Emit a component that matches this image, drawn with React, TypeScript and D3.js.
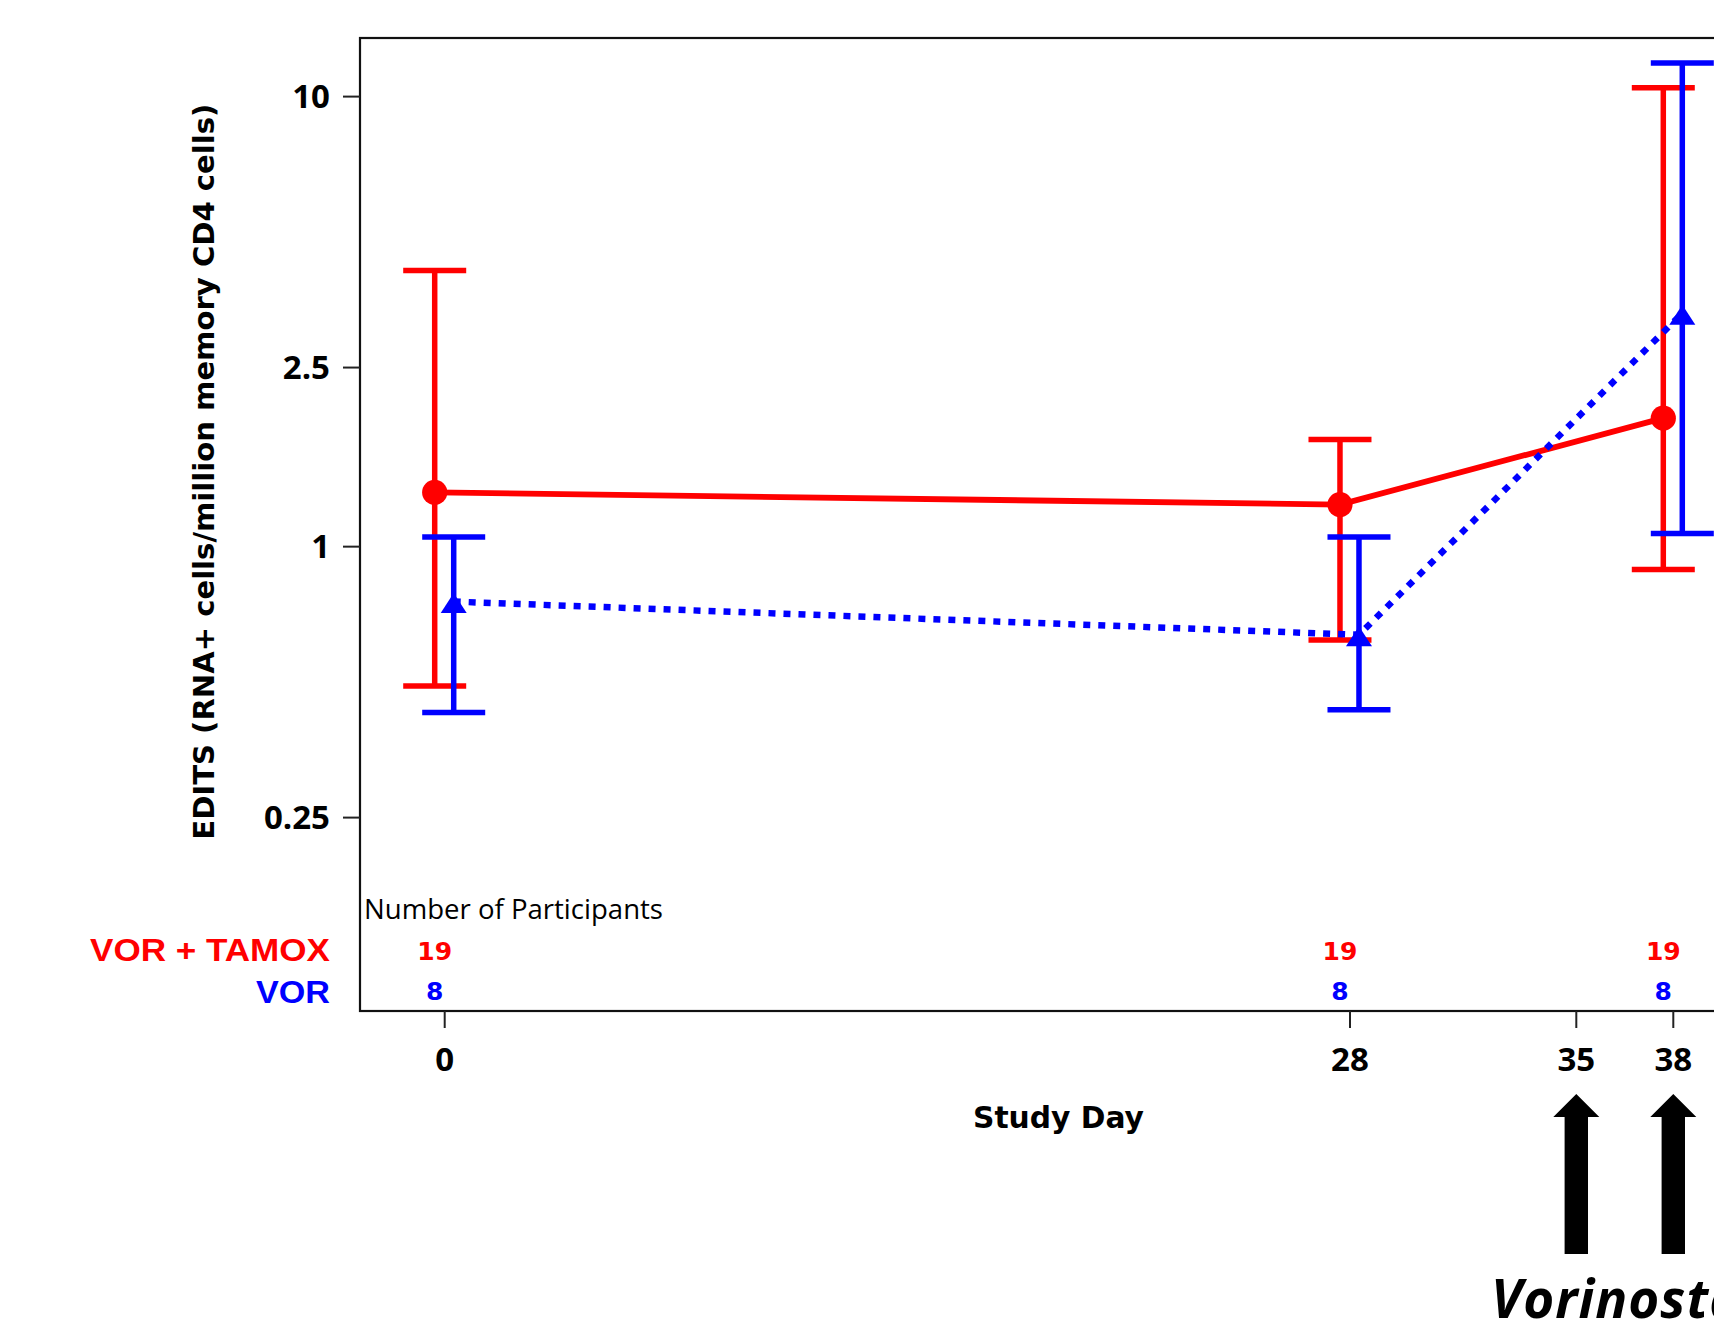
import React from "react";
import * as d3 from "d3";

// ---- data ----
const days = [0, 28, 38];
const xTickDays = [0, 28, 35, 38];
const yTickValues = [0.25, 1, 2.5, 10];
const yTickLabels = ["0.25", "1", "2.5", "10"];

const redName = "VOR + TAMOX";
const redMean = [1.32, 1.24, 1.93];
const redLower = [0.49, 0.62, 0.89];
const redUpper = [4.11, 1.73, 10.46];
const redCounts = [19, 19, 19];

const blueName = "VOR";
const blueMean = [0.755, 0.637, 3.3];
const blueLower = [0.428, 0.434, 1.07];
const blueUpper = [1.05, 1.05, 11.88];
const blueCounts = [8, 8, 8];

const arrowDays = [35, 38];

const RED = "#ff0000";
const BLUE = "#0000ff";
const BOLD = "'DejaVu Sans', Verdana, sans-serif";
const TICKFONT = "'Open Sans', sans-serif";

export default function App() {
  const W = 1714;
  const H = 1323;
  const x = d3.scaleLinear().domain([0, 38]).range([444.7, 1673.3]);
  const y = d3.scaleLog().domain([0.25, 10]).range([817.6, 96.6]);

  const frame = { left: 360, top: 38, right: 1756, bottom: 1011 };
  const redOff = -10;
  const blueOff = 9;
  const capW = 63;

  const redPath = d3
    .line<number>()
    .x((d, i) => x(days[i]) + redOff)
    .y((d) => y(d))(redMean) as string;
  const bluePath = d3
    .line<number>()
    .x((d, i) => x(days[i]) + blueOff)
    .y((d) => y(d))(blueMean) as string;

  const errBars = (lower: number[], upper: number[], off: number, color: string) =>
    days.map((d, i) => {
      const cx = x(d) + off;
      return (
        <g key={i} stroke={color} strokeWidth={5.5}>
          <line x1={cx} x2={cx} y1={y(lower[i])} y2={y(upper[i])} />
          <line x1={cx - capW / 2} x2={cx + capW / 2} y1={y(lower[i])} y2={y(lower[i])} />
          <line x1={cx - capW / 2} x2={cx + capW / 2} y1={y(upper[i])} y2={y(upper[i])} />
        </g>
      );
    });

  const tri = (cx: number, cy: number) =>
    `M${cx},${cy - 8.5} L${cx + 13},${cy + 11.5} L${cx - 13},${cy + 11.5} Z`;

  const arrow = (cx: number) => {
    const top = 1094;
    const headBase = 1117;
    const bottom = 1254;
    const hw = 23;
    const sw = 11.7;
    return `M${cx},${top} L${cx + hw},${headBase} L${cx + sw},${headBase} L${cx + sw},${bottom} L${cx - sw},${bottom} L${cx - sw},${headBase} L${cx - hw},${headBase} Z`;
  };

  return (
    <svg
      width={W}
      height={H}
      viewBox={`0 0 ${W} ${H}`}
      style={{ position: "absolute", left: 0, top: 0, background: "#fff" }}
    >
      <rect x={0} y={0} width={W} height={H} fill="#fff" />
      {/* frame */}
      <rect
        x={frame.left}
        y={frame.top}
        width={frame.right - frame.left}
        height={frame.bottom - frame.top}
        fill="none"
        stroke="#111"
        strokeWidth={2.2}
      />
      {/* y ticks */}
      {yTickValues.map((v, i) => (
        <g key={v}>
          <line x1={343} x2={frame.left} y1={y(v)} y2={y(v)} stroke="#222" strokeWidth={2} />
          <text
            x={330}
            y={y(v) + 11.5}
            textAnchor="end"
            fontFamily={TICKFONT}
            fontWeight="bold"
            fontSize={33}
            fill="#000"
          >
            {yTickLabels[i]}
          </text>
        </g>
      ))}
      {/* x ticks */}
      {xTickDays.map((d) => (
        <g key={d}>
          <line x1={x(d)} x2={x(d)} y1={frame.bottom} y2={frame.bottom + 17} stroke="#222" strokeWidth={2} />
          <text
            x={x(d)}
            y={1070.5}
            textAnchor="middle"
            fontFamily={TICKFONT}
            fontWeight="bold"
            fontSize={33}
            fill="#000"
          >
            {d}
          </text>
        </g>
      ))}
      {/* axis titles */}
      <text
        x={1058.5}
        y={1127.5}
        textAnchor="middle"
        fontFamily={BOLD}
        fontWeight="bold"
        fontSize={30.5}
        textLength={171}
        lengthAdjust="spacingAndGlyphs"
        fill="#000"
      >
        Study Day
      </text>
      <text
        transform={`translate(214,471.7) rotate(-90)`}
        textAnchor="middle"
        fontFamily={BOLD}
        fontWeight="bold"
        fontSize={28.5}
        textLength={736}
        lengthAdjust="spacingAndGlyphs"
        fill="#000"
      >
        EDITS (RNA+ cells/million memory CD4 cells)
      </text>

      {/* red series */}
      {errBars(redLower, redUpper, redOff, RED)}
      <path d={redPath} fill="none" stroke={RED} strokeWidth={5.8} />
      {days.map((d, i) => (
        <circle key={d} cx={x(d) + redOff} cy={y(redMean[i])} r={12.6} fill={RED} />
      ))}

      {/* blue series */}
      {errBars(blueLower, blueUpper, blueOff, BLUE)}
      <path d={bluePath} fill="none" stroke={BLUE} strokeWidth={6.5} strokeDasharray="7 8" />
      {days.map((d, i) => (
        <path key={d} d={tri(x(d) + blueOff, y(blueMean[i]))} fill={BLUE} />
      ))}

      {/* participants table */}
      <text
        x={364}
        y={919}
        fontFamily="'Open Sans', sans-serif"
        fontSize={27.5}
        textLength={299}
        lengthAdjust="spacingAndGlyphs"
        fill="#000"
      >
        Number of Participants
      </text>
      <text
        x={330}
        y={961}
        textAnchor="end"
        fontFamily="'Liberation Sans', Arial, sans-serif"
        fontWeight="bold"
        fontSize={31.5}
        textLength={240}
        lengthAdjust="spacingAndGlyphs"
        fill={RED}
      >
        {redName}
      </text>
      <text
        x={330}
        y={1002.5}
        textAnchor="end"
        fontFamily="'Liberation Sans', Arial, sans-serif"
        fontWeight="bold"
        fontSize={31.5}
        textLength={74}
        lengthAdjust="spacingAndGlyphs"
        fill={BLUE}
      >
        {blueName}
      </text>
      {days.map((d, i) => (
        <g key={d}>
          <text
            x={x(d) + redOff}
            y={960}
            textAnchor="middle"
            fontFamily={BOLD}
            fontWeight="bold"
            fontSize={25}
            fill={RED}
          >
            {redCounts[i]}
          </text>
          <text
            x={x(d) + redOff}
            y={1000}
            textAnchor="middle"
            fontFamily={BOLD}
            fontWeight="bold"
            fontSize={25}
            fill={BLUE}
          >
            {blueCounts[i]}
          </text>
        </g>
      ))}

      {/* arrows */}
      {arrowDays.map((d) => (
        <path key={d} d={arrow(x(d))} fill="#000" />
      ))}
      <text
        x={1491}
        y={1318}
        fontFamily="'Open Sans', sans-serif"
        fontWeight="bold"
        fontStyle="italic"
        fontSize={53}
        letterSpacing={1}
        fill="#000"
      >
        Vorinostat
      </text>
    </svg>
  );
}
